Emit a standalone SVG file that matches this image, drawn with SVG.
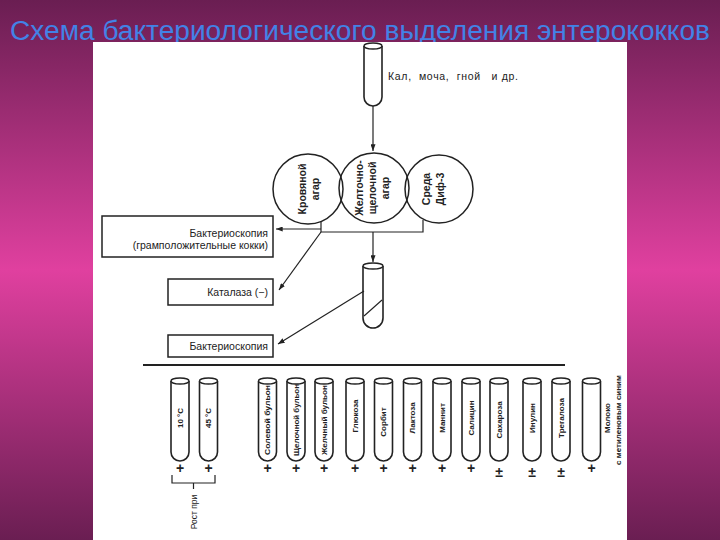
<svg xmlns="http://www.w3.org/2000/svg" width="720" height="540" viewBox="0 0 720 540">
<defs>
<linearGradient id="bg" x1="0" y1="0" x2="0" y2="1">
<stop offset="0" stop-color="#6a1e52"/>
<stop offset="0.5" stop-color="#e0409f"/>
<stop offset="1" stop-color="#6a1e52"/>
</linearGradient>
<marker id="ah" viewBox="0 0 8 6" refX="8" refY="3" markerWidth="7" markerHeight="5" orient="auto" markerUnits="userSpaceOnUse"><path d="M0 0 L8 3 L0 6 Z" fill="#222"/></marker>
<symbol id="tb" overflow="visible">
<path d="M-9 3 V74 A9 9 0 0 0 9 74 V3" fill="#fff" stroke="#222" stroke-width="1.6"/>
<ellipse cx="0" cy="3" rx="9" ry="3" fill="#fff" stroke="#222" stroke-width="1.4"/>
</symbol>
<style>
.t{font-family:"Liberation Sans",Arial,sans-serif;fill:#222}
.b{font-weight:bold}
.ln{stroke:#222;stroke-width:1.2;fill:none}
.box{fill:#fff;stroke:#222;stroke-width:1.5}
.circ{fill:none;stroke:#222;stroke-width:1.5}
.pl{font-family:"Liberation Sans",Arial,sans-serif;fill:#222;font-size:14px;font-weight:bold;text-anchor:middle}
.tl{font-family:"Liberation Sans",Arial,sans-serif;fill:#222;font-size:8px;font-weight:bold;text-anchor:middle;dominant-baseline:central}
</style>
</defs>
<rect x="0" y="0" width="720" height="540" fill="url(#bg)"/>
<text x="360" y="40" text-anchor="middle" font-family="'Liberation Sans',Arial,sans-serif" font-size="27" fill="#4282e6" textLength="700" lengthAdjust="spacingAndGlyphs">Схема бактериологического выделения энтерококков</text>
<rect x="93" y="42" width="534" height="498" fill="#fff"/>

<g id="sample-tube">
<path d="M364 46 V97 A9 9 0 0 0 382 97 V46" fill="#fff" stroke="#222" stroke-width="1.6"/>
<ellipse cx="373" cy="46" rx="9" ry="3" fill="#fff" stroke="#222" stroke-width="1.4"/>
<text class="t" x="388" y="80" font-size="10.5" xml:space="preserve" textLength="130">Кал,  моча,  гной   и др.</text>
</g>

<g id="blood-agar">
<circle class="circ" cx="308" cy="189" r="35"/>
<text class="t b" font-size="10.5" text-anchor="middle" dominant-baseline="central" transform="translate(302,189) rotate(-90)">Кровяной</text>
<text class="t b" font-size="10.5" text-anchor="middle" dominant-baseline="central" transform="translate(315,189) rotate(-90)">агар</text>
</g>
<g id="yolk-agar">
<circle class="circ" cx="374" cy="188" r="35"/>
<text class="t b" font-size="10.5" text-anchor="middle" dominant-baseline="central" transform="translate(359,188) rotate(-90)">Желточно-</text>
<text class="t b" font-size="10.5" text-anchor="middle" dominant-baseline="central" transform="translate(372,188) rotate(-90)">щелочной</text>
<text class="t b" font-size="10.5" text-anchor="middle" dominant-baseline="central" transform="translate(385,188) rotate(-90)">агар</text>
</g>
<g id="dif3">
<circle class="circ" cx="439" cy="189" r="34"/>
<text class="t b" font-size="10.5" text-anchor="middle" dominant-baseline="central" transform="translate(426,189) rotate(-90)">Среда</text>
<text class="t b" font-size="10.5" text-anchor="middle" dominant-baseline="central" transform="translate(440,189) rotate(-90)">Диф-3</text>
</g>

<g id="box-gram">
<rect class="box" x="102" y="216" width="171" height="41"/>
<text class="t" x="268" y="237" font-size="10.5" text-anchor="end">Бактериоскопия</text>
<text class="t" x="268" y="249" font-size="10.5" text-anchor="end">(грамположительные кокки)</text>
</g>
<g id="box-catalase">
<rect class="box" x="168" y="279" width="105" height="26"/>
<text class="t" x="268" y="296" font-size="10.5" text-anchor="end">Каталаза (−)</text>
</g>
<g id="box-micro">
<rect class="box" x="168" y="335" width="105" height="22"/>
<text class="t" x="268" y="350" font-size="10.5" text-anchor="end">Бактериоскопия</text>
</g>

<g id="slant-tube">
<path d="M363 266 V318 A10 10 0 0 0 383 318 V266" fill="#fff" stroke="#222" stroke-width="1.6"/>
<ellipse cx="373" cy="266" rx="10" ry="3" fill="#fff" stroke="#222" stroke-width="1.4"/>
<line class="ln" x1="364" y1="316" x2="382" y2="300"/>
</g>

<line id="separator" x1="143" y1="365" x2="565" y2="365" stroke="#222" stroke-width="2"/>

<g id="tube-10">
<use href="#tb" x="180" y="378"/>
<text class="tl" transform="translate(180,418) rotate(-90)">10 °C</text>
<text class="pl" x="180" y="473">+</text>
</g>
<g id="tube-45">
<use href="#tb" x="208.5" y="378"/>
<text class="tl" transform="translate(208.5,418) rotate(-90)">45 °C</text>
<text class="pl" x="208.5" y="473">+</text>
</g>
<g id="tube-salt">
<use href="#tb" x="267.5" y="378"/>
<text class="tl" transform="translate(267.5,420) rotate(-90)" textLength="70" lengthAdjust="spacingAndGlyphs">Солевой бульон</text>
<text class="pl" x="267.5" y="473">+</text>
</g>
<g id="tube-alk">
<use href="#tb" x="296" y="378"/>
<text class="tl" transform="translate(296,420) rotate(-90)" textLength="72" lengthAdjust="spacingAndGlyphs">Щелочной бульон</text>
<text class="pl" x="296" y="473">+</text>
</g>
<g id="tube-bile">
<use href="#tb" x="324" y="378"/>
<text class="tl" transform="translate(324,420) rotate(-90)" textLength="70" lengthAdjust="spacingAndGlyphs">Желчный бульон</text>
<text class="pl" x="324" y="473">+</text>
</g>
<g id="tube-glucose">
<use href="#tb" x="355" y="378"/>
<text class="tl" transform="translate(355,416) rotate(-90)">Глюкоза</text>
<text class="pl" x="355" y="473">+</text>
</g>
<g id="tube-sorbit">
<use href="#tb" x="383.5" y="378"/>
<text class="tl" transform="translate(383.5,422) rotate(-90)">Сорбит</text>
<text class="pl" x="383.5" y="473">+</text>
</g>
<g id="tube-lactose">
<use href="#tb" x="412.5" y="378"/>
<text class="tl" transform="translate(412.5,418) rotate(-90)">Лактоза</text>
<text class="pl" x="412.5" y="473">+</text>
</g>
<g id="tube-mannit">
<use href="#tb" x="442" y="378"/>
<text class="tl" transform="translate(442,418) rotate(-90)">Маннит</text>
<text class="pl" x="442" y="473">+</text>
</g>
<g id="tube-salicin">
<use href="#tb" x="471" y="378"/>
<text class="tl" transform="translate(471,418) rotate(-90)">Салицин</text>
<text class="pl" x="471" y="473">+</text>
</g>
<g id="tube-sucrose">
<use href="#tb" x="499" y="378"/>
<text class="tl" transform="translate(499,420) rotate(-90)">Сахароза</text>
<text class="pl" x="499" y="477" font-size="15">±</text>
</g>
<g id="tube-inulin">
<use href="#tb" x="532" y="378"/>
<text class="tl" transform="translate(532,418) rotate(-90)">Инулин</text>
<text class="pl" x="532" y="477" font-size="15">±</text>
</g>
<g id="tube-trehalose">
<use href="#tb" x="561" y="378"/>
<text class="tl" transform="translate(561,418) rotate(-90)">Трегалоза</text>
<text class="pl" x="561" y="477" font-size="15">±</text>
</g>
<g id="tube-milk">
<use href="#tb" x="591.5" y="378"/>
<text class="pl" x="591.5" y="473">+</text>
<text class="tl" transform="translate(607,418) rotate(-90)">Молоко</text>
<text class="tl" font-size="7.5" transform="translate(618,420) rotate(-90)">с метиленовым синим</text>
</g>

<g id="growth-label">
<path class="ln" d="M172 475 V483 H215 V475 M193.5 483 V489"/>
<text class="t" font-size="8.5" text-anchor="middle" dominant-baseline="central" transform="translate(193.5,512) rotate(-90)">Рост при</text>
</g>

<g id="connectors">
<line class="ln" x1="373" y1="106" x2="373" y2="151" marker-end="url(#ah)"/>
<path class="ln" d="M321 221 V232 H423 V220"/>
<line class="ln" x1="321" y1="229" x2="276" y2="229" marker-end="url(#ah)"/>
<line class="ln" x1="321" y1="232" x2="279" y2="290" marker-end="url(#ah)"/>
<line class="ln" x1="373" y1="232" x2="373" y2="262" marker-end="url(#ah)"/>
<line class="ln" x1="364" y1="291" x2="278" y2="344" marker-end="url(#ah)"/>
</g>
</svg>
